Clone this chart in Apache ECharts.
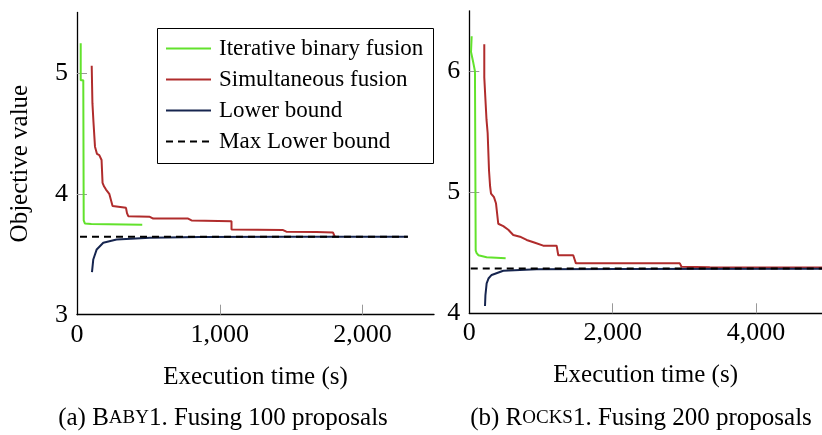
<!DOCTYPE html>
<html>
<head>
<meta charset="utf-8">
<script src="https://cdn.jsdelivr.net/npm/echarts@6/dist/echarts.min.js"></script>
<style>
  html, body { margin: 0; padding: 0; background: #fff; }
  #chart { width: 822px; height: 435px; }
</style>
</head>
<body>
<div id="chart"></div>
<script>
// (a) Baby1 - 100 proposals
var babyIterX = [26, 26, 44, 47, 55, 100, 457];
var babyIterY = [5.245, 4.94, 4.94, 3.78, 3.755, 3.75, 3.745];
var babySimX = [103, 108, 115, 126, 140, 156, 172, 179, 190, 203, 226, 249, 262, 343, 350, 359, 510, 534, 778, 802, 1082, 1082, 1443, 1466, 1676, 1793, 1805];
var babySimY = [5.06, 4.75, 4.6, 4.39, 4.33, 4.32, 4.28, 4.09, 4.06, 4.035, 4.0, 3.9, 3.885, 3.884, 3.84, 3.815, 3.81, 3.795, 3.795, 3.78, 3.774, 3.705, 3.70, 3.687, 3.684, 3.68, 3.645];
var babyLbX = [105, 114, 138, 184, 277, 510, 860, 1500, 2317];
var babyLbY = [3.352, 3.457, 3.54, 3.595, 3.622, 3.636, 3.643, 3.645, 3.645];
var babyMaxLbX = [21, 2317];
var babyMaxLbY = [3.645, 3.645];

// (b) Rocks1 - 200 proposals
var rocksIterX = [33, 24, 56, 79, 89, 100, 126, 242, 507];
var rocksIterY = [6.29, 6.16, 6.07, 6.0, 4.52, 4.50, 4.48, 4.463, 4.455];
var rocksSimX = [209, 209, 223, 240, 256, 275, 290, 303, 344, 372, 404, 474, 544, 613, 707, 800, 916, 1031, 1218, 1241, 1450, 1487, 2937, 2960, 3355, 4920];
var rocksSimY = [6.223, 5.95, 5.79, 5.6, 5.49, 5.18, 5.05, 4.99, 4.96, 4.91, 4.74, 4.72, 4.69, 4.647, 4.633, 4.606, 4.583, 4.559, 4.559, 4.48, 4.48, 4.413, 4.413, 4.385, 4.38, 4.378];
var rocksLbX = [219, 225, 242, 270, 312, 474, 939, 2100, 4920];
var rocksLbY = [4.06, 4.15, 4.248, 4.29, 4.317, 4.352, 4.364, 4.367, 4.368];
var rocksMaxLbX = [20, 4920];
var rocksMaxLbY = [4.37, 4.37];

var seriesNames = ['Iterative binary fusion', 'Simultaneous fusion', 'Lower bound', 'Max Lower bound'];
var colors = ['#62e22c', '#b02c2c', '#16254f', '#000000'];

var FONT = 'Liberation Serif';

function pairs(xs, ys) {
    return xs.map(function (x, i) { return [x, ys[i]]; });
}
function thousands(v) {
    return String(v).replace(/\B(?=(\d{3})+(?!\d))/g, ',');
}

var chart = echarts.init(document.getElementById('chart'));

var xAxisBase = function (idx, max, labels, ticks) {
    return {
        type: 'value', gridIndex: idx, min: 0, max: max,
        name: 'Execution time (s)', nameLocation: 'middle', nameGap: 50,
        nameTextStyle: { fontFamily: FONT, fontSize: 25, color: '#000' },
        axisLine: { lineStyle: { color: '#000', width: 1.3 } },
        axisTick: { inside: true, length: 10, lineStyle: { color: '#999' }, customValues: ticks },
        axisLabel: { customValues: labels, formatter: thousands, margin: 7, fontFamily: FONT, fontSize: 26, color: '#000' },
        splitLine: { show: false }
    };
};
var yAxisBase = function (idx, min, max, labels, ticks, withName) {
    return {
        type: 'value', gridIndex: idx, min: min, max: max,
        name: withName ? 'Objective value' : '', nameLocation: 'middle', nameGap: 44,
        nameTextStyle: { fontFamily: FONT, fontSize: 25, color: '#000' },
        axisLine: { show: true, lineStyle: { color: '#000', width: 1.3 } },
        axisTick: { show: true, inside: true, length: 10, lineStyle: { color: '#999' }, customValues: ticks },
        axisLabel: { customValues: labels, margin: 9, fontFamily: FONT, fontSize: 26, color: '#000' },
        splitLine: { show: false }
    };
};

function mkSeries(i, axis, xs, ys) {
    return {
        name: seriesNames[i], type: 'line', xAxisIndex: axis, yAxisIndex: axis,
        data: pairs(xs, ys), symbol: 'none', silent: true, animation: false,
        lineStyle: { color: colors[i], width: 2, type: i === 3 ? [7, 5] : 'solid' },
        itemStyle: { color: colors[i] }
    };
}

var capRich = { b: { fontFamily: FONT, fontSize: 25 }, s: { fontFamily: FONT, fontSize: 19 } };

chart.setOption({
    animation: false,
    title: [
        {
            left: 218, top: 401, textAlign: 'center',
            text: '(a) {b|B}{s|ABY}1. Fusing 100 proposals',
            textStyle: { fontFamily: FONT, fontSize: 25, fontWeight: 'normal', color: '#000', rich: capRich }
        },
        {
            left: 636, top: 401, textAlign: 'center',
            text: '(b) {b|R}{s|OCKS}1. Fusing 200 proposals',
            textStyle: { fontFamily: FONT, fontSize: 25, fontWeight: 'normal', color: '#000', rich: capRich }
        }
    ],
    graphic: [{
        type: 'rect', z: 1,
        shape: { x: 157.5, y: 28.5, width: 276, height: 135 },
        style: { fill: '#fff', stroke: '#000', lineWidth: 1 }
    }],
    legend: {
        orient: 'vertical', left: 165, top: 37, padding: 0, z: 10,
        itemWidth: 45, itemHeight: 14, itemGap: 8,
        data: seriesNames,
        itemStyle: { opacity: 0 },
        textStyle: { fontFamily: FONT, fontSize: 23, color: '#000', lineHeight: 23, padding: [0, 0, 0, 3] }
    },
    grid: [
        { left: 77, top: 12.5, width: 357, height: 302.2 },
        { left: 469.3, top: 10.8, width: 352.7, height: 302.5 }
    ],
    xAxis: [
        xAxisBase(0, 2500, [0, 1000, 2000], [1000, 2000]),
        xAxisBase(1, 4920, [0, 2000, 4000], [2000, 4000])
    ],
    yAxis: [
        yAxisBase(0, 3, 5.5, [3, 4, 5], [4, 5], true),
        yAxisBase(1, 4, 6.5, [4, 5, 6], [5, 6], false)
    ],
    series: [
        mkSeries(0, 0, babyIterX, babyIterY),
        mkSeries(1, 0, babySimX, babySimY),
        mkSeries(2, 0, babyLbX, babyLbY),
        mkSeries(3, 0, babyMaxLbX, babyMaxLbY),
        mkSeries(0, 1, rocksIterX, rocksIterY),
        mkSeries(1, 1, rocksSimX, rocksSimY),
        mkSeries(2, 1, rocksLbX, rocksLbY),
        mkSeries(3, 1, rocksMaxLbX, rocksMaxLbY)
    ]
});
</script>
</body>
</html>
